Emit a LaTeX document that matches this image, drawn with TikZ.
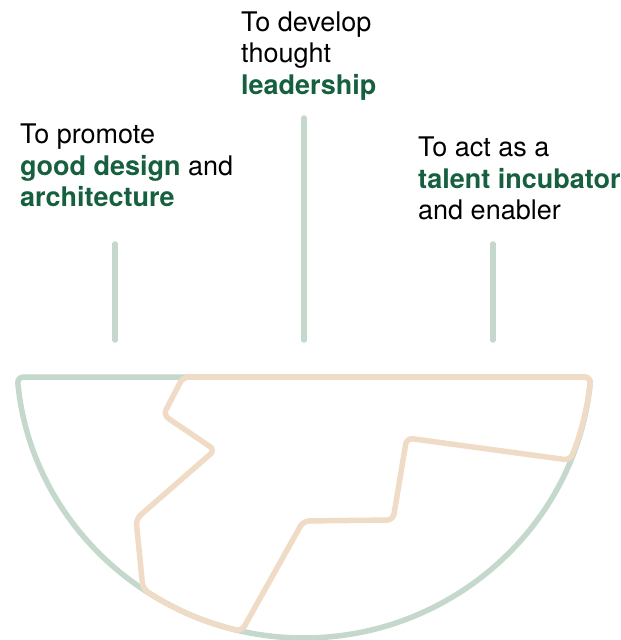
\documentclass[tikz,border=0pt]{standalone}
\usepackage{fontspec}
\setmainfont{TeX Gyre Heros}
\usetikzlibrary{calc,positioning}
\definecolor{stemgreen}{HTML}{C5D8CC}
\definecolor{sand}{HTML}{F0DCC6}
\definecolor{darkgreen}{HTML}{17603F}
\newcommand{\hl}[1]{\textcolor{darkgreen}{\textbf{#1}}}

\begin{document}
\begin{tikzpicture}[x=1pt, y=1pt,
	stem/.style={line width=5.5pt, stemgreen, line cap=round},
	rim/.style={line width=5.5pt, stemgreen, rounded corners=6pt},
	zig/.style={line width=5.5pt, sand, rounded corners=6pt, line join=round},
	lbl/.style={anchor=base west, inner sep=0pt, align=left, font=\fontsize{27}{31.5}\selectfont}]
	\useasboundingbox (0,0) rectangle (621,640);
	\coordinate (c) at (304,290);
	\coordinate (lc) at ($(c)+(185.4:288)$);
	\coordinate (rc) at ($(c)+(354.6:288)$);
	\coordinate (p1) at ($(c)+(236:288)$);
	\coordinate (p2) at ($(c)+(257.5:288)$);
	\coordinate (p3) at ($(c)+(337.5:288)$);
	\coordinate (t1) at (183,263);
	\node[lbl] (promote) at (20,433) {To promote\\\hl{good design} and\\\hl{architecture}};
	\node[lbl] (develop) at (241,545.7) {To develop\\thought\\\hl{leadership}};
	\node[lbl] (incub) at (418,420) {To act as a\\\hl{talent incubator}\\and enabler};
	\coordinate (s1a) at (115,396);
	\coordinate (s1b) at (115,300);
	\coordinate (s2a) at (304,522);
	\coordinate (s2b) at (304,300);
	\coordinate (s3a) at (493,396);
	\coordinate (s3b) at (493,300);
	\draw[stem] (s1a) -- (s1b);
	\draw[stem] (s2a) -- (s2b);
	\draw[stem] (s3a) -- (s3b);
	\draw[rim] (lc) arc[start angle=185.4, end angle=354.6, radius=288] -- cycle;
	\draw[zig] (t1) -- (rc) arc[start angle=354.6, end angle=337.5, radius=288]
		-- (406.7,202) -- (393,120) -- (303.3,119) -- (p2)
		arc[start angle=257.5, end angle=236, radius=288]
		-- (136,121) -- (215,190) -- (163.3,225) -- cycle;
\end{tikzpicture}
\end{document}
